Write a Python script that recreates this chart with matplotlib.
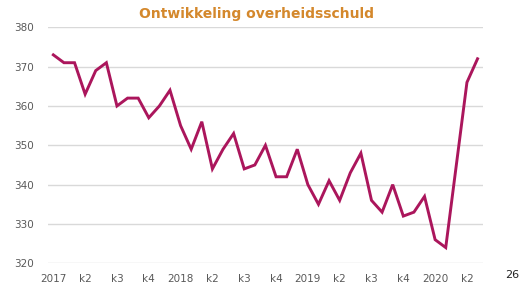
import matplotlib.pyplot as plt
import numpy as np

# monthly government debt (bn euro), jan 2017 - may 2020
debt = [373, 371, 371, 363, 369, 371, 360, 362, 362, 357, 360, 364,
        355, 349, 356, 344, 349, 353, 344, 345, 350, 342, 342, 349,
        340, 335, 341, 336, 343, 348, 336, 333, 340, 332, 333, 337,
        326, 324, 345, 366, 372]
tick_labels = ["2017", "k2", "k3", "k4", "2018", "k2", "k3", "k4",
               "2019", "k2", "k3", "k4", "2020", "k2"]
y_ticks = [320, 330, 340, 350, 360, 370, 380]

LINE_COLOR = "#ab165c"
TITLE_COLOR = "#d4882c"
GRID_COLOR = "#d9d9d9"
TEXT_COLOR = "#595959"

fig = plt.figure(figsize=(5.22, 2.86), dpi=100)
ax = fig.add_axes([0.092, 0.0794, 0.833, 0.8251])

months = np.arange(len(debt))
ax.plot(months, debt, color=LINE_COLOR, lw=2.1, solid_joinstyle="miter", zorder=3)

ax.set_xlim(-0.5, len(debt) - 0.5)
ax.set_ylim(320, 380)
ax.set_yticks(y_ticks)
ax.set_xticks(np.arange(0, 3 * len(tick_labels), 3))
ax.set_xticklabels(tick_labels)
ax.grid(axis="y", color=GRID_COLOR, lw=1)
ax.set_axisbelow(True)
for s in ax.spines.values():
    s.set_visible(False)
ax.tick_params(axis="both", length=0, labelsize=7.5, colors=TEXT_COLOR)
ax.tick_params(axis="x", pad=8)
ax.tick_params(axis="y", pad=10)

fig.text(0.492, 0.95, "Ontwikkeling overheidsschuld", ha="center", va="center",
         fontsize=10, fontweight="bold", color=TITLE_COLOR)
fig.text(0.981, 0.04, "26", ha="center", va="center", fontsize=8, color="#222222")

fig.savefig("out.png", dpi=100)
